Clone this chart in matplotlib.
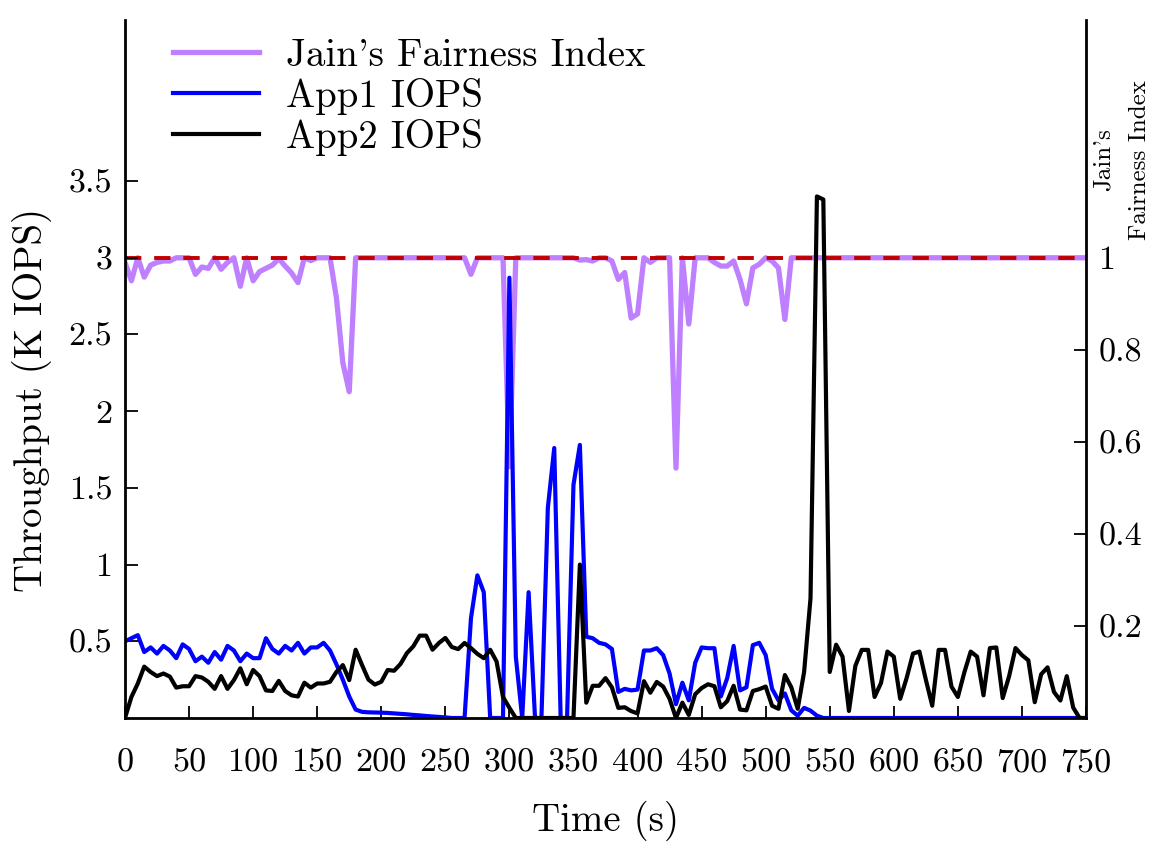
import matplotlib
matplotlib.use("Agg")
import matplotlib.pyplot as plt

plt.rcParams["font.family"] = ["cmr10", "DejaVu Serif"]
plt.rcParams["mathtext.fontset"] = "cm"
plt.rcParams["axes.unicode_minus"] = False

# sample times (s), one sample every 5 s
time_s = list(range(0, 755, 5))

# App1 throughput (K IOPS)
app1 = [
    0.50, 0.52, 0.54, 0.43, 0.46, 0.42, 0.47, 0.44, 0.39, 0.48,   # 0-45
    0.45, 0.37, 0.40, 0.36, 0.43, 0.38, 0.47, 0.44, 0.37, 0.42,   # 50-95
    0.39, 0.39, 0.52, 0.45, 0.42, 0.47, 0.44, 0.49, 0.42, 0.46,   # 100-145
    0.46, 0.49, 0.44, 0.35, 0.25, 0.14, 0.055, 0.04, 0.037, 0.036,  # 150-195
    0.035, 0.033, 0.03, 0.027, 0.024, 0.02, 0.017, 0.013, 0.01, 0.007,  # 200-245
    0.004, 0.0, 0.0, 0.0, 0.65, 0.93, 0.82, 0.0, 0.0, 0.0,        # 250-295
    2.87, 0.40, 0.0, 0.82, 0.0, 0.0, 1.37, 1.76, 0.0, 0.0,        # 300-345
    1.52, 1.78, 0.53, 0.52, 0.49, 0.48, 0.45, 0.17, 0.19, 0.18,   # 350-395
    0.185, 0.44, 0.44, 0.455, 0.41, 0.29, 0.09, 0.23, 0.115, 0.36,  # 400-445
    0.46, 0.455, 0.455, 0.14, 0.26, 0.47, 0.18, 0.20, 0.475, 0.49,  # 450-495
    0.41, 0.19, 0.115, 0.16, 0.05, 0.015, 0.066, 0.048, 0.015, 0.0,  # 500-545
    0.0, 0.0, 0.0, 0.0, 0.0, 0.0, 0.0, 0.0, 0.0, 0.0,             # 550-595
    0.0, 0.0, 0.0, 0.0, 0.0, 0.0, 0.0, 0.0, 0.0, 0.0,             # 600-645
    0.0, 0.0, 0.0, 0.0, 0.0, 0.0, 0.0, 0.0, 0.0, 0.0,             # 650-695
    0.0, 0.0, 0.0, 0.0, 0.0, 0.0, 0.0, 0.0, 0.0, 0.0,             # 700-745
    0.0,                                                          # 750
]

# App2 throughput (K IOPS)
app2 = [
    0.0, 0.137, 0.225, 0.335, 0.30, 0.273, 0.29, 0.27, 0.198, 0.207,   # 0-45
    0.207, 0.273, 0.264, 0.236, 0.19, 0.273, 0.19, 0.247, 0.324, 0.22,  # 50-95
    0.313, 0.273, 0.18, 0.176, 0.242, 0.176, 0.148, 0.14, 0.23, 0.198,  # 100-145
    0.225, 0.225, 0.236, 0.30, 0.345, 0.247, 0.445, 0.345, 0.25, 0.218,  # 150-195
    0.236, 0.313, 0.308, 0.352, 0.423, 0.467, 0.537, 0.537, 0.445, 0.489,  # 200-245
    0.522, 0.463, 0.449, 0.489, 0.456, 0.418, 0.39, 0.445, 0.368, 0.137,  # 250-295
    0.066, 0.0, 0.0, 0.0, 0.0, 0.0, 0.0, 0.0, 0.0, 0.0,                # 300-345
    0.0, 1.0, 0.10, 0.21, 0.21, 0.26, 0.20, 0.066, 0.07, 0.045,        # 350-395
    0.03, 0.24, 0.165, 0.235, 0.205, 0.125, 0.0, 0.10, 0.02, 0.155,    # 400-445
    0.195, 0.22, 0.207, 0.07, 0.11, 0.21, 0.055, 0.05, 0.176, 0.188,   # 450-495
    0.205, 0.08, 0.06, 0.28, 0.20, 0.06, 0.30, 0.78, 3.40, 3.38,       # 500-545
    0.30, 0.478, 0.40, 0.046, 0.34, 0.444, 0.444, 0.137, 0.228, 0.433,  # 550-595
    0.40, 0.125, 0.26, 0.42, 0.433, 0.25, 0.08, 0.444, 0.444, 0.205,   # 600-645
    0.137, 0.296, 0.433, 0.40, 0.148, 0.456, 0.46, 0.13, 0.273, 0.456,  # 650-695
    0.41, 0.376, 0.103, 0.285, 0.33, 0.17, 0.114, 0.273, 0.068, 0.0,   # 700-745
    0.0,                                                               # 750
]

# Jain's fairness index (right axis)
jain = [
    0.99, 0.95, 1.0, 0.958, 0.984, 0.99, 0.993, 0.993, 1.0, 1.0,      # 0-45
    1.0, 0.964, 0.98, 0.977, 1.0, 0.975, 0.99, 1.0, 0.938, 1.0,       # 50-95
    0.95, 0.97, 0.977, 0.984, 0.998, 0.982, 0.967, 0.946, 1.0, 0.994,  # 100-145
    1.0, 1.0, 1.0, 0.913, 0.772, 0.709, 1.0, 1.0, 1.0, 1.0,           # 150-195
    1.0, 1.0, 1.0, 1.0, 1.0, 1.0, 1.0, 1.0, 1.0, 1.0,                 # 200-245
    1.0, 1.0, 1.0, 1.0, 0.964, 1.0, 1.0, 1.0, 1.0, 1.0,               # 250-295
    0.546, 1.0, 1.0, 1.0, 1.0, 1.0, 1.0, 1.0, 1.0, 1.0,               # 300-345
    1.0, 0.995, 0.996, 0.993, 1.0, 1.0, 0.993, 0.953, 0.968, 0.869,   # 350-395
    0.878, 1.0, 0.99, 1.0, 1.0, 1.0, 0.543, 1.0, 0.856, 1.0,          # 400-445
    1.0, 1.0, 0.99, 0.982, 0.982, 0.993, 0.953, 0.90, 0.978, 0.986,   # 450-495
    1.0, 0.993, 0.978, 0.866, 1.0, 1.0, 1.0, 1.0, 1.0, 1.0,           # 500-545
    1.0, 1.0, 1.0, 1.0, 1.0, 1.0, 1.0, 1.0, 1.0, 1.0,                 # 550-595
    1.0, 1.0, 1.0, 1.0, 1.0, 1.0, 1.0, 1.0, 1.0, 1.0,                 # 600-645
    1.0, 1.0, 1.0, 1.0, 1.0, 1.0, 1.0, 1.0, 1.0, 1.0,                 # 650-695
    1.0, 1.0, 1.0, 1.0, 1.0, 1.0, 1.0, 1.0, 1.0, 1.0,                 # 700-745
    1.0,                                                              # 750
]

x_ticks = list(range(0, 800, 50))
left_ticks = [0.5, 1, 1.5, 2, 2.5, 3, 3.5]
left_labels = ["0.5", "1", "1.5", "2", "2.5", "3", "3.5"]
right_ticks = [0.2, 0.4, 0.6, 0.8, 1.0]
right_labels = ["0.2", "0.4", "0.6", "0.8", "1"]
fair_level = 1.0

PURPLE = "#bf80ff"
BLUE = "#0000ff"
RED = "#c00000"

W, H = 1157, 842
fig = plt.figure(figsize=(W / 100, H / 100), dpi=100)
ax = fig.add_axes([125 / W, 1 - 718 / H, (1086 - 125) / W, (718 - 20) / H])
ax2 = ax.twinx()

# fairness index + ideal level on the right axis (drawn underneath)
l_jain, = ax2.plot(time_s, jain, color=PURPLE, lw=3.8, label="Jain's Fairness Index")
ax2.axhline(fair_level, color=RED, lw=2.8, dashes=(4.2, 3.3))

# IOPS on the left axis, on top
l_a1, = ax.plot(time_s, app1, color=BLUE, lw=3.0, label="App1 IOPS")
l_a2, = ax.plot(time_s, app2, color="black", lw=3.0, label="App2 IOPS")
ax.set_zorder(ax2.get_zorder() + 1)
ax.patch.set_visible(False)

YTOP = 4.55
ax.set_xlim(0, 750)
ax.set_ylim(0, YTOP)
ax2.set_ylim(0, YTOP / 3)

ax.set_xticks(x_ticks)
ax.set_xticklabels([str(t) for t in x_ticks])
ax.set_yticks(left_ticks)
ax.set_yticklabels(left_labels)
ax2.set_yticks(right_ticks)
ax2.set_yticklabels(right_labels)

for a in (ax, ax2):
    a.spines["top"].set_visible(False)
    for s in a.spines.values():
        s.set_linewidth(2.0)
    a.tick_params(direction="in", length=9, width=1.3, labelsize=24.5)
ax.spines["right"].set_visible(False)
ax2.spines["left"].set_visible(False)
ax2.spines["bottom"].set_visible(False)
ax.tick_params(axis="x", pad=22)
ax.tick_params(axis="y", pad=9)
ax2.tick_params(axis="y", pad=9)

ax.set_xlabel("Time (s)", fontsize=28)
ax.xaxis.set_label_coords(0.5, -0.118)
ax.set_ylabel("Throughput (K IOPS)", fontsize=28)
ax.yaxis.set_label_coords(-0.076, 0.455)
ax2.set_ylabel("Jain's\nFairness Index", fontsize=18, linespacing=1.8)
ax2.yaxis.set_label_coords(1.007, 0.80)

fig.legend(handles=[l_jain, l_a1, l_a2], loc="upper left",
           bbox_to_anchor=(173 / W, 1 - 38 / H), frameon=False,
           fontsize=28, handlelength=2.2, handletextpad=0.7,
           labelspacing=0.1, borderpad=0, borderaxespad=0)

fig.savefig("out.png", dpi=100)
